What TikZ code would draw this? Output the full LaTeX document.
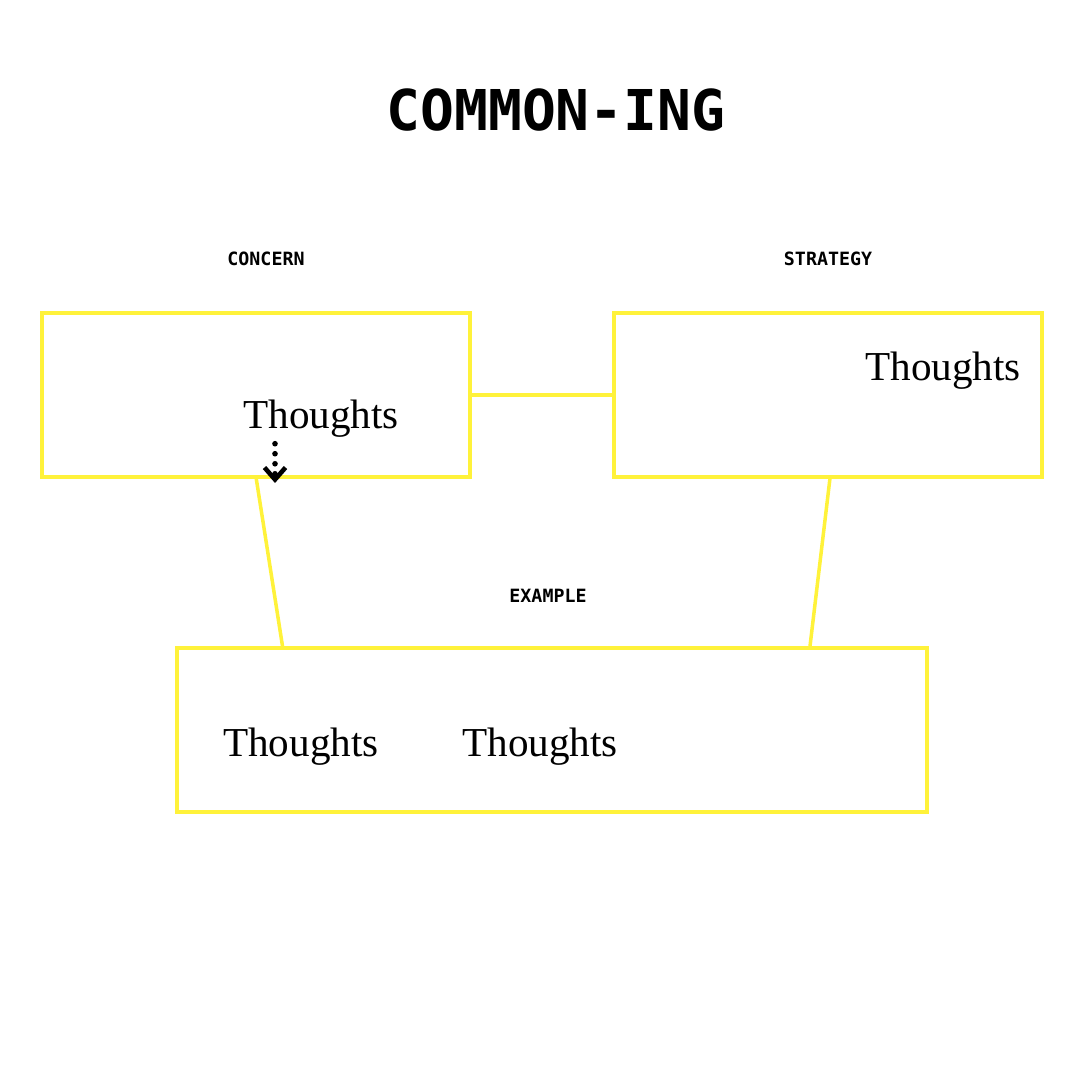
\documentclass[tikz,border=0pt]{standalone}
\usepackage{fontspec}
\setmainfont{Liberation Serif}
\setmonofont{DejaVu Sans Mono}
\usepackage{xcolor}
\usetikzlibrary{positioning,calc,arrows.meta}
\definecolor{boxyellow}{HTML}{FFF23A}

\begin{document}
\begin{tikzpicture}[x=0.01cm,y=-0.01cm, every node/.style={inner sep=0pt,outer sep=0pt}]
\useasboundingbox (0,0) rectangle (1080,1080);
\tikzset{
  frame/.style={draw=boxyellow,line width=1pt,minimum height=1.64cm},
  link/.style={draw=boxyellow,line width=1pt},
  caption/.style={font=\ttfamily\bfseries\fontsize{5.2}{6}\selectfont},
  thought/.style={font=\fontsize{11.7}{14}\selectfont}
}
\node[font=\ttfamily\bfseries\fontsize{16}{18}\selectfont] (title) at (556,110) {COMMON-ING};
\node[caption] (lconcern) at (266,259) {CONCERN};
\node[caption] (lstrategy) at (828,259) {STRATEGY};
\node[caption] (lexample) at (548,596) {EXAMPLE};
\node[frame,minimum width=4.28cm] (concern) at (256,395) {};
\node[frame,minimum width=4.28cm] (strategy) at (828,395) {};
\node[frame,minimum width=7.5cm] (example) at (552,730) {};
\node[thought] (t1) at (321,419) {Thoughts};
\node[thought] (t2) at (943,371) {Thoughts};
\node[thought] (t3) at (301,747) {Thoughts};
\node[thought] (t4) at (540,747) {Thoughts};
\coordinate (tip) at (275,483);
\draw[link] (concern.east) -- (strategy.west);
\draw[link] (concern.south) -- ($(example.north west)+(106,0)$);
\draw[link] ([xshift=0.6pt]strategy.south) -- ($(example.north west)+(633,0)$);
\draw[line width=1.6pt,dash pattern=on 0pt off 2.85pt,line cap=round,-{Straight Barb[length=1.2mm,width=2.1mm,line width=1.3pt]}] ($(tip |- t1.south)+(0,6)$) -- (tip);
\end{tikzpicture}
\end{document}
